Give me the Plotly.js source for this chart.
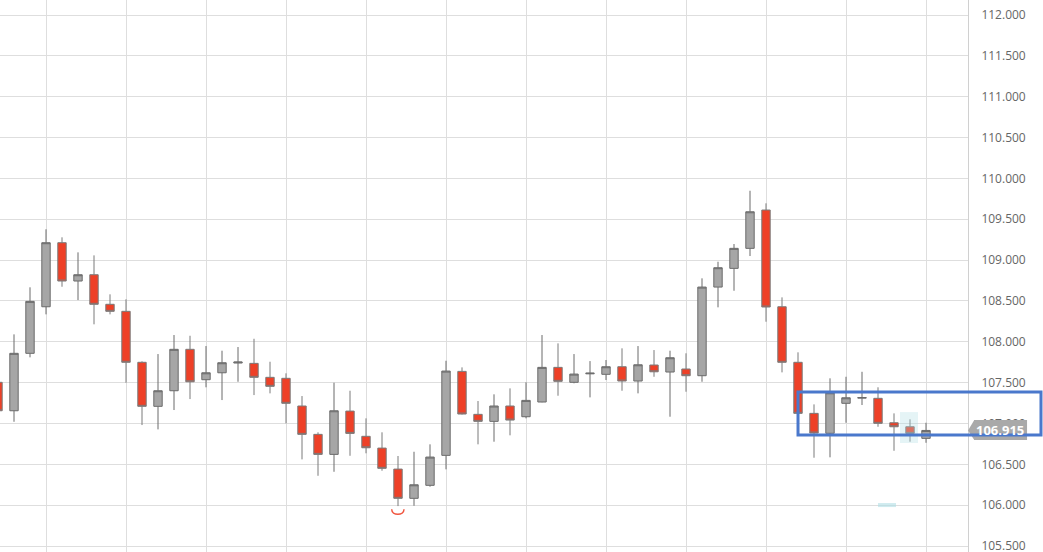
<!DOCTYPE html>
<html>
<head>
<meta charset="utf-8">
<script src="https://cdn.plot.ly/plotly-3.0.1.min.js"></script>
<style>
html,body{margin:0;padding:0;background:#fff;}
#chart{width:1043px;height:552px;}
</style>
</head>
<body>
<div id="chart"></div>
<script>
// Candle index (time position)
const idx = [];
for (let i = 0; i < 59; i++) idx.push(i);

const openV = [
107.504,107.156,107.859,108.429,109.213,108.744,108.821,108.459,108.373,107.749,
107.210,107.401,107.908,107.536,107.621,107.740,107.736,107.565,107.553,107.214,
106.867,106.622,107.152,106.843,106.699,106.442,106.084,106.243,106.610,107.638,
107.112,107.026,107.214,107.083,107.263,107.687,107.504,107.608,107.602,107.695,
107.520,107.716,107.630,107.667,107.585,108.670,108.899,109.144,109.613,108.429,
107.749,107.124,106.880,107.247,107.310,107.308,107.009,106.960,106.818
];
const highV = [
107.550,108.091,108.667,109.377,109.279,109.095,109.058,108.581,108.520,107.761,
107.850,108.083,108.074,107.948,107.891,107.936,108.037,107.756,107.614,107.336,
106.892,107.499,107.401,107.063,106.892,106.602,106.654,106.745,107.768,107.687,
107.275,107.357,107.430,107.504,108.083,107.981,107.850,107.764,107.777,107.920,
107.948,107.899,107.891,107.859,108.777,108.980,109.197,109.849,109.695,108.544,
107.871,107.234,107.553,107.572,107.633,107.443,107.124,107.051,107.009
];
const lowV = [
107.100,107.021,107.810,108.336,108.674,108.511,108.214,108.336,107.499,106.981,
106.928,107.165,107.299,107.443,107.287,107.511,107.348,107.369,107.002,106.561,
106.360,106.409,106.605,106.635,106.422,105.989,105.993,106.226,106.439,107.110,
106.745,106.777,106.855,107.063,107.260,107.340,107.492,107.320,107.532,107.401,
107.369,107.572,107.083,107.389,107.511,108.422,108.625,109.050,108.246,107.626,
107.120,106.581,106.586,107.009,107.226,106.960,106.666,106.777,106.764
];
const closeV = [
107.156,107.859,108.495,109.213,108.744,108.821,108.459,108.373,107.749,107.210,
107.401,107.908,107.511,107.621,107.744,107.752,107.565,107.455,107.247,106.867,
106.622,107.156,106.879,106.703,106.451,106.084,106.250,106.589,107.642,107.116,
107.026,107.214,107.042,107.283,107.687,107.516,107.605,107.616,107.695,107.520,
107.719,107.633,107.805,107.585,108.670,108.907,109.144,109.592,108.426,107.749,
107.124,106.883,107.376,107.315,107.318,107.002,106.960,106.879,106.915
];

const yTicks = [105.5,106,106.5,107,107.5,108,108.5,109,109.5,110,110.5,111,111.5,112];
const lastPrice = 106.915;
const lastLabel = "106.915";

// Highlight / marker values
const boxLow = 106.859, boxHigh = 107.385;
const hlX = [56.375, 57.5], hlY = [106.761, 107.140];
const barX = [55.0, 56.125], barY = [105.977, 106.026];
const arcX = [24.606, 25.375], arcTop = 105.949, arcCtrl = 105.868;
const lblY = [106.797, 107.042];

const trace = {
  type: 'candlestick',
  x: idx, open: openV, high: highV, low: lowV, close: closeV,
  increasing: {fillcolor: '#a6a6a6', line: {color: '#6b6b6b', width: 1}},
  decreasing: {fillcolor: '#ee4027', line: {color: '#7a7a7a', width: 1}},
  whiskerwidth: 0,
  hoverinfo: 'skip',
  showlegend: false
};

const layout = {
  width: 1043, height: 552,
  margin: {l: 0, r: 75, t: 0, b: 0, pad: 0},
  paper_bgcolor: '#ffffff', plot_bgcolor: '#ffffff',
  boxgap: 0.25,
  showlegend: false,
  font: {family: '"Open Sans", sans-serif', size: 12, color: '#666666'},
  xaxis: {
    range: [0.125, 60.625],
    rangeslider: {visible: false},
    tickmode: 'linear', tick0: 3, dtick: 5,
    showticklabels: false, ticks: '',
    showgrid: true, gridcolor: '#dedede', gridwidth: 1,
    zeroline: false, showline: false, fixedrange: true
  },
  yaxis: {
    side: 'right',
    range: [105.427, 112.184],
    tickmode: 'array', tickvals: yTicks,
    ticktext: yTicks.map(v => v.toFixed(3)),
    ticks: '', ticklabelstandoff: 10,
    ticklabeloverflow: 'allow',
    tickfont: {family: '"Open Sans", sans-serif', size: 12, color: '#666666'},
    showgrid: true, gridcolor: '#dedede', gridwidth: 1,
    zeroline: false, showline: true, linecolor: '#d0d0d0', linewidth: 1,
    fixedrange: true
  },
  shapes: [
    {type: 'rect', xref: 'x', yref: 'y', x0: hlX[0], x1: hlX[1], y0: hlY[0], y1: hlY[1],
     fillcolor: 'rgba(175,222,228,0.32)', line: {width: 0}, layer: 'above'},
    {type: 'rect', xref: 'x', yref: 'y', x0: barX[0], x1: barX[1], y0: barY[0], y1: barY[1],
     fillcolor: 'rgba(175,222,228,0.6)', line: {width: 0}, layer: 'above'},
    {type: 'path', xref: 'x', yref: 'y',
     path: 'M ' + arcX[0] + ',' + arcTop + ' C ' + arcX[0] + ',' + arcCtrl + ' ' + arcX[1] + ',' + arcCtrl + ' ' + arcX[1] + ',' + arcTop,
     line: {color: '#f0553f', width: 1.5}, layer: 'above'},
    // price label box + pointer
    {type: 'rect', xref: 'paper', yref: 'y', x0: 1.0062, x1: 1.061, y0: lblY[0], y1: lblY[1],
     fillcolor: '#a9a9a9', line: {width: 0}, layer: 'above'},
    {type: 'path', xref: 'paper', yref: 'y',
     path: 'M 1.0,' + lastPrice + ' L 1.0065,' + lblY[1] + ' L 1.0065,' + lblY[0] + ' Z',
     fillcolor: '#a9a9a9', line: {width: 0}, layer: 'above'},
    // blue rectangle
    {type: 'rect', xref: 'paper', yref: 'y', x0: 0.8244, x1: 1.0754, y0: boxLow, y1: boxHigh,
     fillcolor: 'rgba(0,0,0,0)', line: {color: '#4a78cc', width: 3}, layer: 'above'}
  ],
  annotations: [
    {xref: 'paper', yref: 'y', x: 1.0335, y: lastPrice, xanchor: 'center', yanchor: 'middle',
     text: '<b>' + lastLabel + '</b>', showarrow: false,
     font: {family: '"Open Sans", sans-serif', size: 13, color: '#ffffff'}}
  ]
};

Plotly.newPlot('chart', [trace], layout, {displayModeBar: false, staticPlot: true});
</script>
</body>
</html>
